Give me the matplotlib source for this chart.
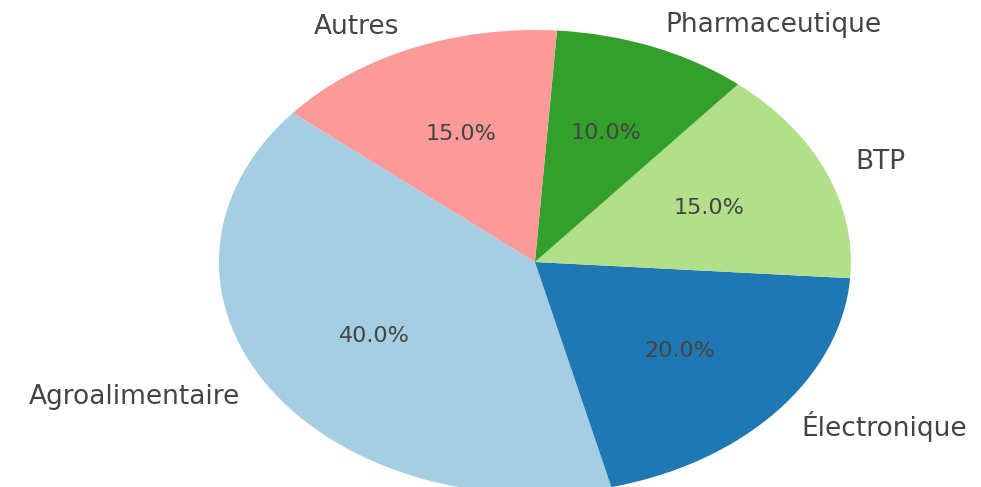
import matplotlib
matplotlib.use("Agg")
import matplotlib.pyplot as plt

categories = ["Agroalimentaire", "Électronique", "BTP", "Pharmaceutique", "Autres"]
values = [40, 20, 15, 10, 15]
colors = ["#a6cee3", "#1f78b4", "#b2df8a", "#33a02c", "#fb9a99"]

fig = plt.figure(figsize=(9.81, 4.87), dpi=100)
ax = fig.add_axes([0.2232, -0.0144, 0.6442, 0.9528])
wedges, texts, autotexts = ax.pie(values, labels=categories, colors=colors,
                                  autopct="%1.1f%%", startangle=140,
                                  labeldistance=1.1, pctdistance=0.6,
                                  textprops={"color": "#444444"})
for t in texts:
    t.set_fontsize(19)
for t in autotexts:
    t.set_fontsize(16)
ax.set_aspect("auto")
ax.set_xlim(-1, 1)
ax.set_ylim(-1, 1)
ax.axis("off")
fig.savefig("out.png", dpi=100)
